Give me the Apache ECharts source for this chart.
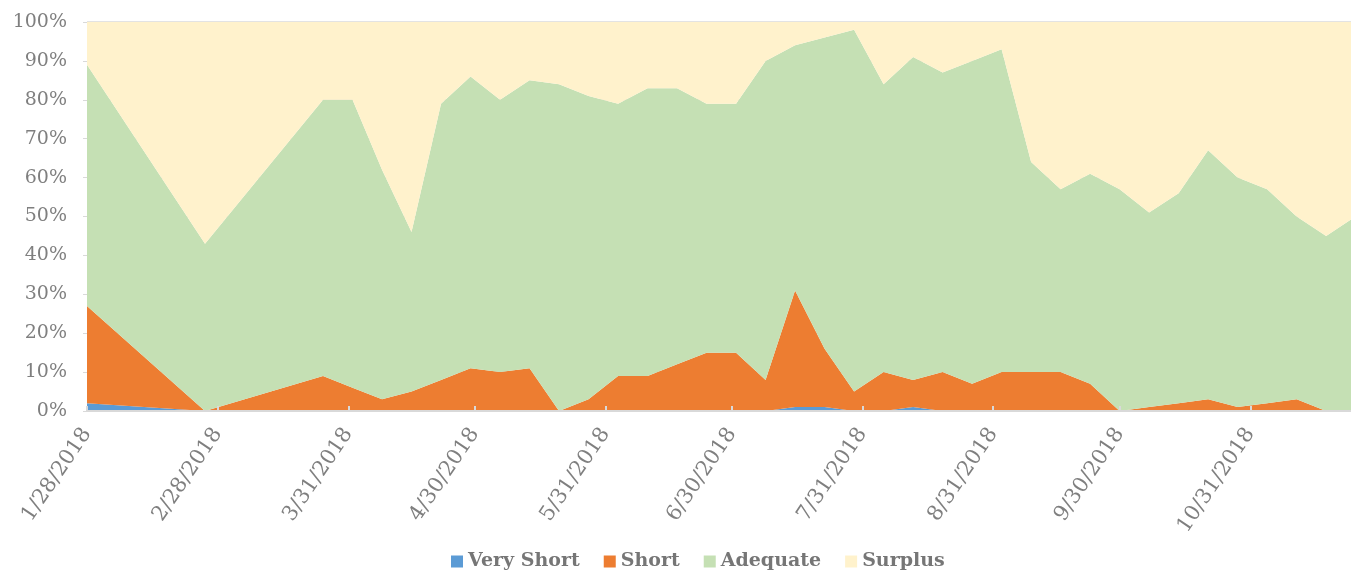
<!DOCTYPE html>
<html>
<head>
<meta charset="utf-8">
<script src="https://cdn.jsdelivr.net/npm/echarts@6.0.0/dist/echarts.min.js"></script>
<style>
  html, body { margin: 0; padding: 0; background: #fff; }
  #main { width: 1351px; height: 572px; }
</style>
</head>
<body>
<div id="main"></div>
<script>
// weekly report dates (monthly in winter)
var dates = ['2018-01-28', '2018-02-25', '2018-03-25', '2018-04-01', '2018-04-08', '2018-04-15',
    '2018-04-22', '2018-04-29', '2018-05-06', '2018-05-13', '2018-05-20', '2018-05-27',
    '2018-06-03', '2018-06-10', '2018-06-17', '2018-06-24', '2018-07-01', '2018-07-08',
    '2018-07-15', '2018-07-22', '2018-07-29', '2018-08-05', '2018-08-12', '2018-08-19',
    '2018-08-26', '2018-09-02', '2018-09-09', '2018-09-16', '2018-09-23', '2018-09-30',
    '2018-10-07', '2018-10-14', '2018-10-21', '2018-10-28', '2018-11-04', '2018-11-11',
    '2018-11-18', '2018-11-25'];

var veryShort = [2, 0, 0, 0, 0, 0, 0, 0, 0, 0, 0, 0, 0, 0, 0, 0, 0, 0, 1, 1, 0, 0, 1, 0, 0, 0, 0, 0, 0, 0, 0, 0, 0, 0, 0, 0, 0, 0];
var short = [25, 0, 9, 6, 3, 5, 8, 11, 10, 11, 0, 3, 9, 9, 12, 15, 15, 8, 30, 15, 5, 10, 7, 10, 7, 10, 10, 10, 7, 0, 1, 2, 3, 1, 2, 3, 0, 0];
var adequate = [62, 43, 71, 74, 59, 41, 71, 75, 70, 74, 84, 78, 70, 74, 71, 64, 64, 82, 63, 80, 93, 74, 83, 77, 83, 83, 54, 47, 54, 57, 50, 54, 64, 59, 55, 47, 45, 50];
var surplus = [11, 57, 20, 20, 38, 54, 21, 14, 20, 15, 16, 19, 21, 17, 17, 21, 21, 10, 6, 4, 2, 16, 9, 13, 10, 7, 36, 43, 39, 43, 49, 44, 33, 40, 43, 50, 55, 50];

// axis tick labels as Excel shows them
var tickDates = ['2018-01-28', '2018-02-28', '2018-03-31', '2018-04-30', '2018-05-31',
    '2018-06-30', '2018-07-31', '2018-08-31', '2018-09-30', '2018-10-31'];

var DAY = 86400000;
function toTs(s) {
    var p = s.split('-');
    return Date.UTC(+p[0], +p[1] - 1, +p[2]);
}
var t0 = toTs(dates[0]);
function toDay(s) { return Math.round((toTs(s) - t0) / DAY); }

function pairs(vals) {
    return vals.map(function (v, i) { return [toTs(dates[i]), v]; });
}

var tickDays = tickDates.map(toDay);
// the picture is cut off just before the last week
var xMaxDay = toDay('2018-11-23') + 0.9;

var myChart = echarts.init(document.getElementById('main'));

function areaSeries(name, vals, color) {
    return {
        name: name,
        type: 'line',
        stack: 'total',
        xAxisIndex: 0,
        data: pairs(vals),
        symbol: 'none',
        lineStyle: { width: 0 },
        itemStyle: { color: color },
        areaStyle: { color: color, opacity: 1 }
    };
}

myChart.setOption({
    animation: false,
    grid: { left: 87, right: 0, top: 22, bottom: 161 },
    legend: {
        left: 446,
        top: 547,
        icon: 'rect',
        itemWidth: 12,
        itemHeight: 12,
        itemGap: 24,
        textStyle: { fontFamily: 'DejaVu Serif', fontWeight: 'bold', fontSize: 19, color: '#767676' },
        data: ['Very Short', 'Short', 'Adequate', 'Surplus']
    },
    xAxis: [{
        // date axis that carries the data
        type: 'time',
        min: t0,
        max: t0 + xMaxDay * DAY,
        axisLine: { show: false },
        axisTick: { show: false },
        axisLabel: { show: false },
        splitLine: { show: false }
    }, {
        // same span in days, only for Excel-like ticks and labels
        type: 'value',
        position: 'bottom',
        min: 0,
        max: xMaxDay,
        z: 10,
        axisLine: { lineStyle: { color: '#d9d9d9', width: 2 } },
        axisTick: { show: true, inside: true, length: 5, customValues: tickDays, lineStyle: { color: '#d9d9d9', width: 2 } },
        axisLabel: {
            customValues: tickDays,
            rotate: 56,
            margin: 19,
            fontFamily: 'DejaVu Serif',
            fontSize: 21,
            color: '#7f7f7f',
            formatter: function (v) {
                var d = new Date(t0 + v * DAY);
                return (d.getUTCMonth() + 1) + '/' + d.getUTCDate() + '/' + d.getUTCFullYear();
            }
        },
        splitLine: { show: false }
    }],
    yAxis: {
        type: 'value',
        min: 0,
        max: 100,
        interval: 10,
        axisLine: { show: false },
        axisTick: { show: true, length: 4, lineStyle: { color: '#d9d9d9' } },
        axisLabel: {
            margin: 20,
            fontFamily: 'DejaVu Serif',
            fontSize: 19,
            color: '#7f7f7f',
            formatter: '{value}%'
        },
        splitLine: { show: true, lineStyle: { color: '#e3e3e3', width: 2 } }
    },
    series: [
        areaSeries('Very Short', veryShort, '#5b9bd5'),
        areaSeries('Short', short, '#ed7d31'),
        areaSeries('Adequate', adequate, '#c5e0b4'),
        areaSeries('Surplus', surplus, '#fff2cc')
    ]
});
</script>
</body>
</html>
